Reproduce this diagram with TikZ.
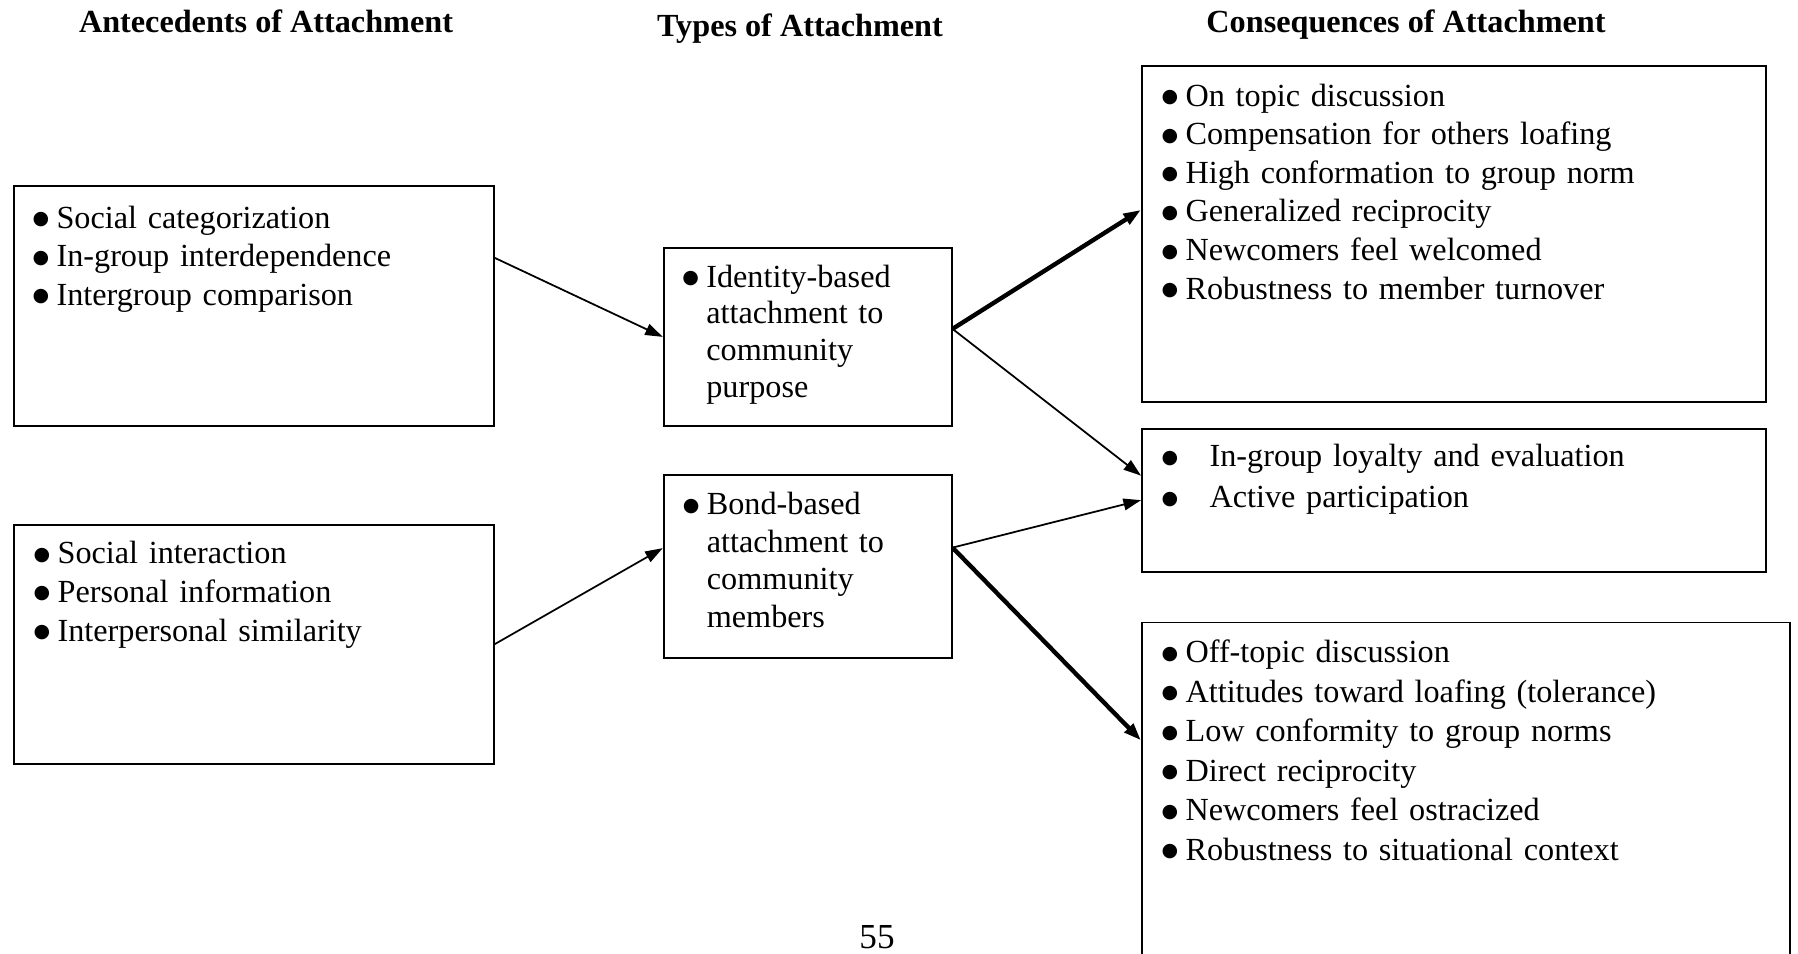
\documentclass[tikz,border=0pt]{standalone}
\usepackage{fontspec}
\setmainfont{Liberation Serif}
\newfontfamily\dotfont{DejaVu Sans}
\usepackage{tikz}
\usetikzlibrary{arrows.meta, positioning}

\newcommand{\bul}{\makebox[0.288cm][l]{\raisebox{1.2pt}{\dotfont\fontsize{6.5pt}{6.5pt}\selectfont ●}}}
\newcommand{\hang}{\hspace*{0.288cm}}

\begin{document}
\begin{tikzpicture}[
    node distance=0.5cm and 1cm,
    every node/.style={font=\fontsize{11pt}{13.2pt}\selectfont},
    frame/.style={draw, line width=0.6pt, anchor=north west, inner sep=0pt},
    list/.style={anchor=base west, inner sep=0pt, text width=#1, align=left},
    heading/.style={anchor=base, font=\fontsize{11pt}{13.2pt}\selectfont\bfseries},
    link/.style={-{Triangle[length=6pt, width=4pt]}, line width=0.6pt},
    strong link/.style={link, line width=1.5pt}
]
\useasboundingbox (0,0) rectangle (21.576,-11.436);
\clip (0,0) rectangle (21.576,-11.436);

% column headings
\node[heading] (headAnte) at (3.192,-0.384) {Antecedents of Attachment};
\node[heading] (headType) at (9.6,-0.432) {Types of Attachment};
\node[heading] (headCons) at (16.872,-0.384) {Consequences of Attachment};

% antecedents
\node[frame, minimum width=5.76cm, minimum height=2.88cm] (anteA) at (0.156,-2.22) {};
\node[frame, minimum width=5.76cm, minimum height=2.868cm, below=1.164cm of anteA] (anteB) {};

% types
\node[frame, minimum width=3.456cm, minimum height=2.136cm,
      right=2.016cm of anteA.south east, anchor=south west] (typeId) {};
\node[frame, minimum width=3.456cm, minimum height=2.196cm, below=0.564cm of typeId] (typeBond) {};

% consequences
\node[frame, minimum width=7.488cm, minimum height=4.032cm] (consId) at (13.692,-0.78) {};
\node[frame, minimum width=7.488cm, minimum height=1.716cm, below=0.3cm of consId] (consBoth) {};
\node[frame, minimum width=7.776cm, minimum height=4.008cm,
      below=0.588cm of consBoth.south west, anchor=north west] (consBond) {};

% box contents
\node[below right=0.516cm and 0.228cm of anteA.north west, list=5.4cm] (anteAText)
    {\bul Social categorization\\ \bul In-group interdependence\\ \bul Intergroup comparison};
\node[below right=0.48cm and 0.24cm of anteB.north west, list=5.4cm] (anteBText)
    {\bul Social interaction\\ \bul Personal information\\ \bul Interpersonal similarity};
\node[below right=0.48cm and 0.228cm of typeId.north west, list=3.1cm,
      font=\fontsize{11pt}{12.6pt}\selectfont] (typeIdText)
    {\bul Identity-based\\ \hang attachment to\\ \hang community\\ \hang purpose};
\node[below right=0.492cm and 0.234cm of typeBond.north west, list=3.1cm,
      font=\fontsize{11pt}{12.8pt}\selectfont] (typeBondText)
    {\bul Bond-based\\ \hang attachment to\\ \hang community\\ \hang members};
\node[below right=0.492cm and 0.24cm of consId.north west, list=7cm] (consIdText)
    {\bul On topic discussion\\ \bul Compensation for others loafing\\
     \bul High conformation to group norm\\ \bul Generalized reciprocity\\
     \bul Newcomers feel welcomed\\ \bul Robustness to member turnover};
\node[below right=0.468cm and 0.24cm of consBoth.north west, list=7cm,
      font=\fontsize{11pt}{14pt}\selectfont] (consBothText)
    {\bul\hang In-group loyalty and evaluation\\ \bul\hang Active participation};
\node[below right=0.492cm and 0.24cm of consBond.north west, list=7.3cm,
      font=\fontsize{11pt}{13.5pt}\selectfont] (consBondText)
    {\bul Off-topic discussion\\ \bul Attitudes toward loafing (tolerance)\\
     \bul Low conformity to group norms\\ \bul Direct reciprocity\\
     \bul Newcomers feel ostracized\\ \bul Robustness to situational context};

\node[anchor=base, font=\fontsize{12pt}{14pt}\selectfont] (pageNum) at (10.524,-11.38) {55};

% connectors
\draw[link] ([yshift=0.576cm]anteA.east) -- (typeId.west);
\draw[link] (anteB.east) -- ([yshift=0.216cm]typeBond.west);
\draw[strong link] ([yshift=0.096cm]typeId.east) -- ([yshift=0.288cm]consId.west);
\draw[link] ([yshift=0.096cm]typeId.east) -- ([yshift=0.294cm]consBoth.west);
\draw[link] ([yshift=0.222cm]typeBond.east) -- (consBoth.west);
\draw[strong link] ([yshift=0.222cm]typeBond.east) -- ([yshift=0.588cm]consBond.west);
\end{tikzpicture}
\end{document}
